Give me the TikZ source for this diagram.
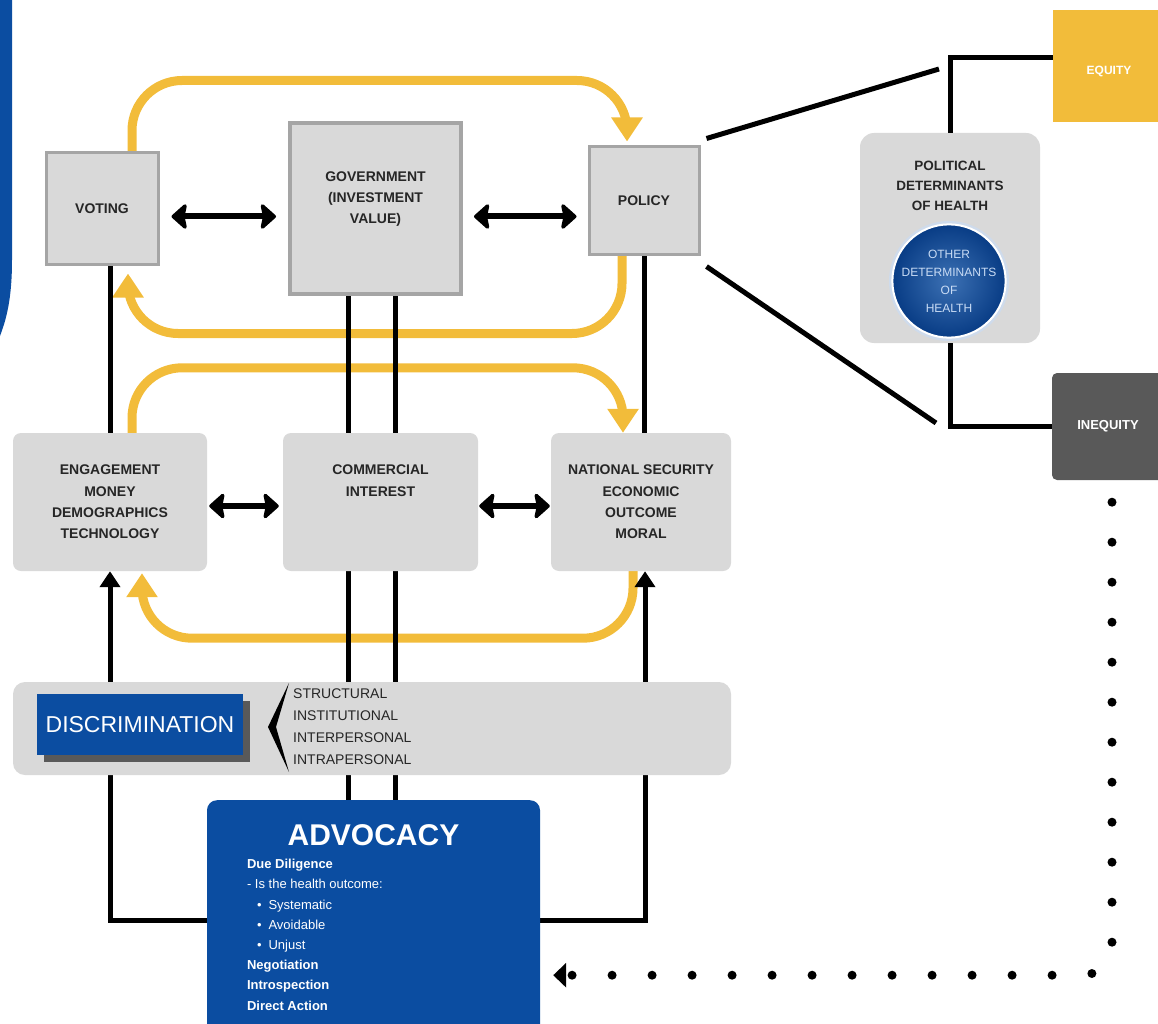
\documentclass[tikz,border=0pt]{standalone}
\usepackage{fontspec}
\setmainfont{Liberation Sans}
\usetikzlibrary{arrows.meta,positioning,shadows}
\definecolor{pdhblue}{HTML}{0B4DA1}
\definecolor{pdhdeep}{HTML}{083C85}
\definecolor{pdhpale}{HTML}{C9DCF5}
\definecolor{pdhyellow}{HTML}{F2BC3A}
\definecolor{pdhbox}{HTML}{D9D9D9}
\definecolor{pdhedge}{HTML}{A5A5A5}
\definecolor{pdhdark}{HTML}{595959}
\definecolor{pdhtext}{HTML}{262626}
\pgfdeclarelayer{bg}
\pgfsetlayers{bg,main}

\begin{document}
\begin{tikzpicture}[x=1pt,y=-1pt,
  box/.style={fill=pdhbox,draw=pdhedge,line width=3pt,align=center,inner sep=0pt,text=pdhtext,font=\bfseries\fontsize{14}{21}\selectfont},
  rbox/.style={fill=pdhbox,rounded corners=8pt,align=center,inner sep=0pt,text=pdhtext,minimum width=194pt,minimum height=138pt,font=\bfseries\fontsize{14}{21.3}\selectfont},
  yarrow/.style={draw=pdhyellow,line width=9pt,rounded corners=50pt,-{Triangle[width=30pt,length=24pt]}},
  dblarrow/.style={line width=6pt,{Stealth[width=30pt,length=17pt,inset=3pt,round]}-{Stealth[width=30pt,length=17pt,inset=3pt,round]}},
  blk/.style={line width=5pt},
  uparrow/.style={line width=5pt,-{Triangle[width=20pt,length=16pt]}},
  dotline/.style={line width=9pt,line cap=round,dash pattern=on 0pt off 40pt,rounded corners=30pt,-{Triangle[width=24pt,length=13pt]}}]
\useasboundingbox (0,0) rectangle (1158,1024);
\clip (0,0) rectangle (1158,1024);
\fill[pdhblue] (0,0) -- (12,0) -- (12,260) .. controls (12,300) and (6,320) .. (0,336) -- cycle;

\node[box,minimum width=112pt,minimum height=111pt] (voting) at (102,208.5) {VOTING};
\node[box,line width=4pt,minimum width=171pt,minimum height=171pt] (gov) at (375.5,208.5) {GOVERNMENT\\(INVESTMENT\\VALUE)\\~};
\node[box,minimum width=110pt,minimum height=107pt] (policy) at (644,200.5) {POLICY};

\node[rbox] (eng) at (110,502) {ENGAGEMENT\\MONEY\\DEMOGRAPHICS\\TECHNOLOGY};
\node[rbox,minimum width=195pt] (com) at (380.5,502) {COMMERCIAL\\INTEREST\\~\\~};
\node[rbox,minimum width=180pt] (ns) at (641,502) {NATIONAL SECURITY\\ECONOMIC\\OUTCOME\\MORAL};

\node[fill=pdhbox,rounded corners=12pt,minimum width=718pt,minimum height=93pt] (band) at (372,728.5) {};
\node[fill=pdhblue,text=white,inner sep=0pt,minimum width=206pt,minimum height=61pt,font=\fontsize{23}{23}\selectfont,drop shadow={shadow xshift=7pt,shadow yshift=-7pt,fill=pdhdark,opacity=1}] (disc) at (140,724.5) {DISCRIMINATION};
\fill (289,683) -- (268,727) -- (289,772) -- (276,727) -- cycle;
\node[anchor=north west,align=left,inner sep=0pt,text=pdhtext,font=\fontsize{14}{21.7}\selectfont] (levels) at (293,689) {STRUCTURAL\\INSTITUTIONAL\\INTERPERSONAL\\INTRAPERSONAL};

\node[fill=pdhblue,rounded corners=10pt,minimum width=333pt,minimum height=260pt,anchor=north] (adv) at (373.5,800) {};
\node[below=24pt of adv.north,inner sep=0pt,text=white,font=\bfseries\fontsize{30}{30}\selectfont] (advtitle) {ADVOCACY};
\node[anchor=north west,align=left,inner sep=0pt,text=white,font=\fontsize{13}{20.2}\selectfont] (advbody) at ([xshift=40pt,yshift=-59pt]adv.north west) {\textbf{Due Diligence}\\- Is the health outcome:\\\hspace*{10pt}\textbullet\hspace{7pt}Systematic\\\hspace*{10pt}\textbullet\hspace{7pt}Avoidable\\\hspace*{10pt}\textbullet\hspace{7pt}Unjust\\\textbf{Negotiation}\\\textbf{Introspection}\\\textbf{Direct Action}};

\node[fill=pdhbox,rounded corners=14pt,minimum width=180pt,minimum height=210pt] (pdh) at (950,238) {};
\node[below=28pt of pdh.north,align=center,inner sep=0pt,text=pdhtext,font=\bfseries\fontsize{13.5}{20}\selectfont] (pdhlabel) {POLITICAL\\DETERMINANTS\\OF HEALTH};
\node[circle,minimum size=120pt,inner sep=0pt,fill=white!80!pdhblue] (odhglow) at (949,281) {};
\node[circle,minimum size=112pt,inner sep=0pt,inner color=pdhblue!80!white,outer color=pdhdeep,draw=white,line width=2pt,align=center,text=pdhpale,font=\fontsize{12}{18}\selectfont] (odh) at (949,281) {OTHER\\DETERMINANTS\\OF\\HEALTH};
\node[fill=pdhyellow,minimum width=112pt,minimum height=112pt,text height=16.6pt,text depth=0pt,text=white,font=\bfseries\fontsize{12}{12}\selectfont] (equity) at (1109,66) {EQUITY};
\node[fill=pdhdark,rounded corners=5pt,minimum width=112pt,minimum height=107pt,text=white,font=\bfseries\fontsize{13}{13}\selectfont] (ineq) at (1108,426.5) {INEQUITY};

\begin{pgfonlayer}{bg}
\draw[yarrow,shorten >=4pt] ([xshift=30pt]voting.north) -- ++(0,-71) -| ([xshift=-17pt]policy.north);
\draw[yarrow,shorten >=8pt] ([xshift=-22pt]policy.south) -- ++(0,78) -| ([xshift=26pt]voting.south);
\draw[yarrow] ([xshift=22pt]eng.north) -- ++(0,-65) -| ([xshift=-18pt]ns.north);
\draw[yarrow,shorten >=2pt] ([xshift=-8pt]ns.south) -- ++(0,67) -| ([xshift=32pt]eng.south);
\draw[blk] (eng.north |- voting.south) -- (eng.north);
\draw[blk] ([xshift=-27pt]gov.south) -- ([xshift=-27pt]gov.south |- adv.north);
\draw[blk] ([xshift=20pt]gov.south) -- ([xshift=20pt]gov.south |- adv.north);
\draw[blk] (policy.south) -- (policy.south |- ns.north);
\draw[uparrow] ([yshift=-120pt]adv.north west) -| (eng.south);
\draw[uparrow] ([yshift=-120pt]adv.north east) -| ([xshift=4pt]ns.south);
\end{pgfonlayer}

\draw[dblarrow,shorten <=12pt,shorten >=12pt] ([yshift=-8pt]voting.east) -- ([yshift=-8pt]voting.east -| gov.west);
\draw[dblarrow,shorten <=11pt,shorten >=11pt] ([yshift=-8pt]gov.east) -- ([yshift=-8pt]gov.east -| policy.west);
\draw[dblarrow,shorten <=2pt,shorten >=4pt] ([yshift=-4pt]eng.east) -- ([yshift=-4pt]com.west);
\draw[dblarrow,shorten <=1pt,shorten >=1pt] ([yshift=-4pt]com.east) -- ([yshift=-4pt]ns.west);

\coordinate (eqknee) at (939,69);
\coordinate (ineqknee) at (936,423);
\draw[blk] ([xshift=6pt,yshift=7pt]policy.north east) -- (eqknee);
\draw[blk] ([xshift=6pt,yshift=-11pt]policy.south east) -- (ineqknee);
\draw[blk] (pdh.north) |- ([yshift=8pt]equity.west);
\draw[blk] (pdh.south) |- (ineq.west);
\draw[dotline] ([xshift=4pt,yshift=-22pt]ineq.south) |- ([xshift=13pt,yshift=-45pt]adv.east);
\end{tikzpicture}
\end{document}
